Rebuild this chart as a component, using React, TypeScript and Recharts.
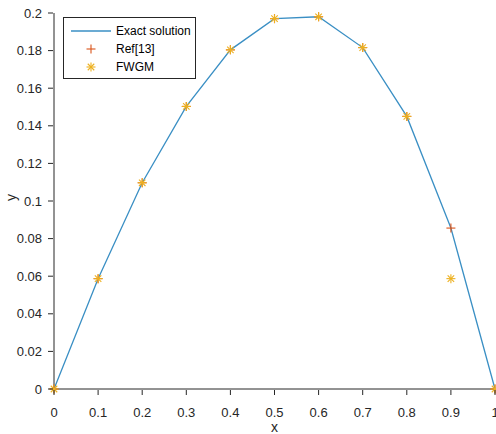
import React from 'react';
import { ComposedChart, Line, Scatter, XAxis, YAxis, Legend } from 'recharts';

const xValues = [0, 0.1, 0.2, 0.3, 0.4, 0.5, 0.6, 0.7, 0.8, 0.9, 1];
const exactValues = [0, 0.0587, 0.1097, 0.1503, 0.1804, 0.197, 0.198, 0.1816, 0.145, 0.0856, 0];
const ref13Values = [0, 0.0587, 0.1097, 0.1503, 0.1804, 0.197, 0.198, 0.1816, 0.145, 0.0856, 0];
const fwgmValues = [0, 0.0587, 0.1097, 0.1503, 0.1804, 0.197, 0.198, 0.1816, 0.145, 0.0587, 0];

const xTicks = [0, 0.1, 0.2, 0.3, 0.4, 0.5, 0.6, 0.7, 0.8, 0.9, 1];
const yTicks = [0, 0.02, 0.04, 0.06, 0.08, 0.1, 0.12, 0.14, 0.16, 0.18, 0.2];

const exactData = xValues.map((x, i) => ({ x, y: exactValues[i] }));
const ref13Data = xValues.map((x, i) => ({ x, y: ref13Values[i] }));
const fwgmData = xValues.map((x, i) => ({ x, y: fwgmValues[i] }));

const AXIS = '#262626';
const BLUE = '#3a8fc4';
const ORANGE = '#d95319';
const YELLOW = '#edb120';
const FONT = '"Liberation Sans", Arial, sans-serif';

const Plus = ({ cx, cy, size = 4.5 }: any) => (
  <g stroke={ORANGE} strokeWidth={1.1}>
    <line x1={cx - size} y1={cy} x2={cx + size} y2={cy} />
    <line x1={cx} y1={cy - size} x2={cx} y2={cy + size} />
  </g>
);

const Star = ({ cx, cy, size = 4.5 }: any) => {
  const d = size * 0.72;
  return (
    <g stroke={YELLOW} strokeWidth={1.1}>
      <line x1={cx - size} y1={cy} x2={cx + size} y2={cy} />
      <line x1={cx} y1={cy - size} x2={cx} y2={cy + size} />
      <line x1={cx - d} y1={cy - d} x2={cx + d} y2={cy + d} />
      <line x1={cx - d} y1={cy + d} x2={cx + d} y2={cy - d} />
    </g>
  );
};

const BottomTick = ({ x, y, payload }: any) => (
  <g>
    <line x1={x} y1={y} x2={x} y2={y - 5} stroke={AXIS} />
    <text x={x} y={y + 22} textAnchor="middle" fontSize={13} fontFamily={FONT} fill={AXIS}>
      {String(payload.value)}
    </text>
  </g>
);

const TopTick = ({ x, y }: any) => <line x1={x} y1={y} x2={x} y2={y + 5} stroke={AXIS} />;

const LeftTick = ({ x, y, payload }: any) => (
  <g>
    <line x1={x} y1={y} x2={x + 5} y2={y} stroke={AXIS} />
    <text x={x - 6} y={y + 4.5} textAnchor="end" fontSize={13} fontFamily={FONT} fill={AXIS}>
      {String(payload.value)}
    </text>
  </g>
);

const RightTick = ({ x, y }: any) => <line x1={x} y1={y} x2={x - 5} y2={y} stroke={AXIS} />;

const LegendBox = () => (
  <svg width={133} height={62} style={{ display: 'block' }}>
    <rect x={0.5} y={0.5} width={132} height={61} fill="#fff" stroke={AXIS} />
    <line x1={8} y1={14} x2={48} y2={14} stroke={BLUE} strokeWidth={1.3} />
    <Plus cx={28} cy={32} />
    <Star cx={28} cy={50} />
    <text x={53} y={18} fontSize={12} fontFamily={FONT} fill="#000">Exact solution</text>
    <text x={53} y={36} fontSize={12} fontFamily={FONT} fill="#000">Ref[13]</text>
    <text x={53} y={54} fontSize={12} fontFamily={FONT} fill="#000">FWGM</text>
  </svg>
);

export default function App() {
  return (
    <div style={{ position: 'absolute', left: 0, top: 0, width: 496, height: 434, background: '#fff' }}>
      <ComposedChart width={496} height={434} margin={{ top: 13, right: 1, bottom: 0, left: 0 }}>
        <XAxis
          xAxisId="bottom"
          dataKey="x"
          type="number"
          domain={[0, 1]}
          ticks={xTicks}
          height={45}
          tickLine={false}
          tickMargin={0}
          axisLine={{ stroke: AXIS }}
          tick={<BottomTick />}
          interval={0}
          label={{ value: 'x', position: 'insideBottom', offset: 2, fontSize: 14, fill: AXIS, fontFamily: FONT }}
        />
        <XAxis
          xAxisId="top"
          orientation="top"
          dataKey="x"
          type="number"
          domain={[0, 1]}
          ticks={xTicks}
          height={0}
          tickLine={false}
          tickMargin={0}
          axisLine={{ stroke: AXIS }}
          tick={<TopTick />}
          interval={0}
        />
        <YAxis
          yAxisId="left"
          type="number"
          domain={[0, 0.2]}
          ticks={yTicks}
          width={54}
          tickLine={false}
          tickMargin={0}
          axisLine={{ stroke: AXIS }}
          tick={<LeftTick />}
          interval={0}
          label={{ value: 'y', angle: -90, position: 'insideLeft', offset: 11, fontSize: 14, fill: AXIS, fontFamily: FONT }}
        />
        <YAxis
          yAxisId="right"
          orientation="right"
          type="number"
          domain={[0, 0.2]}
          ticks={yTicks}
          width={0}
          tickLine={false}
          tickMargin={0}
          axisLine={{ stroke: AXIS }}
          tick={<RightTick />}
          interval={0}
        />
        <Legend
          verticalAlign="middle"
          align="center"
          layout="vertical"
          wrapperStyle={{ left: 63, top: 17, width: 133, height: 62 }}
          content={<LegendBox />}
        />
        <Line
          xAxisId="bottom"
          yAxisId="left"
          data={exactData}
          dataKey="y"
          type="linear"
          stroke={BLUE}
          strokeWidth={1.3}
          dot={false}
          activeDot={false}
          isAnimationActive={false}
        />
        <Scatter
          xAxisId="bottom"
          yAxisId="left"
          data={ref13Data}
          dataKey="y"
          shape={(p: any) => <Plus cx={p.cx} cy={p.cy} />}
          isAnimationActive={false}
        />
        <Scatter
          xAxisId="bottom"
          yAxisId="left"
          data={fwgmData}
          dataKey="y"
          shape={(p: any) => <Star cx={p.cx} cy={p.cy} />}
          isAnimationActive={false}
        />
      </ComposedChart>
    </div>
  );
}
